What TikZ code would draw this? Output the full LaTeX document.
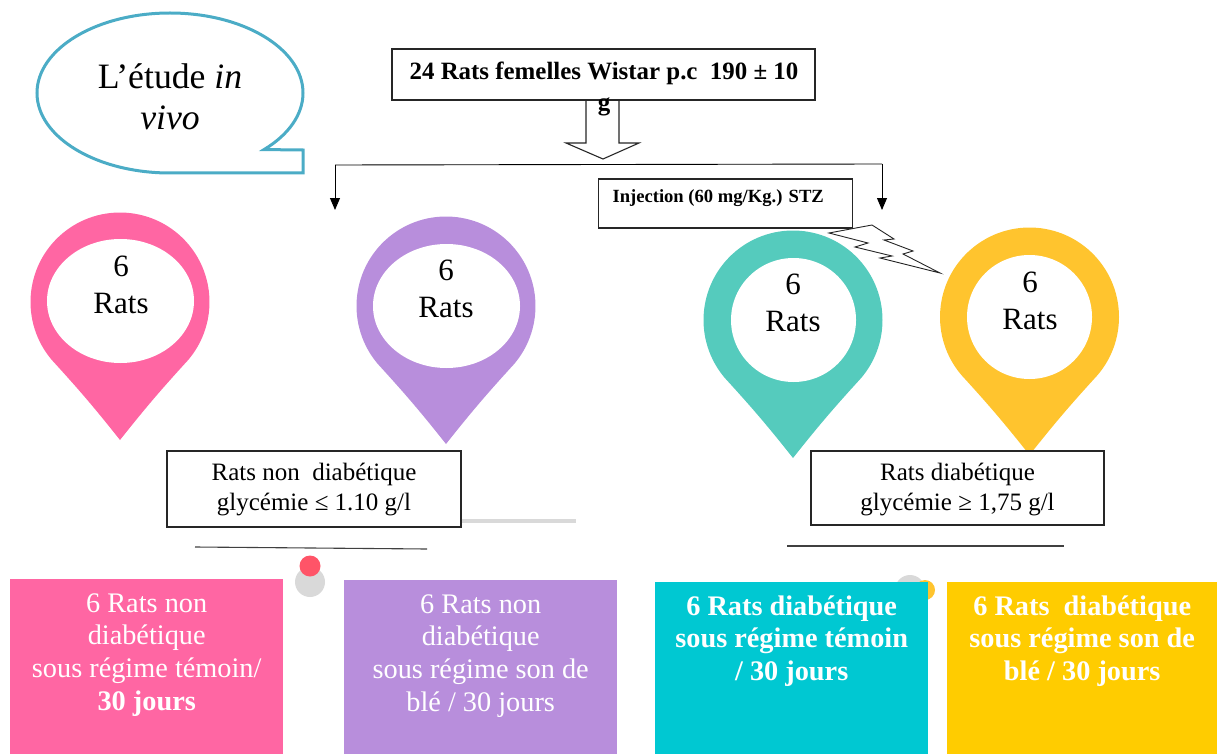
\documentclass[tikz,border=0pt]{standalone}
\usepackage{fontspec}
\setmainfont{Liberation Serif}
\usepackage{tikz}
\usetikzlibrary{positioning,arrows.meta,shapes.geometric}

\definecolor{ratpink}{HTML}{FF66A3}
\definecolor{ratpurple}{HTML}{B88EDC}
\definecolor{pinteal}{HTML}{55CBBD}
\definecolor{pinyellow}{HTML}{FFC42E}
\definecolor{boxteal}{HTML}{00C8D2}
\definecolor{boxyellow}{HTML}{FFCC00}
\definecolor{bubbleblue}{HTML}{4BACC6}
\definecolor{dotred}{HTML}{FF5468}
\definecolor{dotgray}{HTML}{D9D9D9}

\tikzset{
  infobox/.style = {draw=black!85, fill=white, line width=1.2pt, inner sep=0pt},
  hole/.style = {ellipse, fill=white, inner sep=0pt},
  pintext/.style = {align=center, font=\fontsize{31}{37}\selectfont},
  infotext/.style = {align=center, font=\fontsize{25}{29.5}\selectfont},
  groupbox/.style = {anchor=north west, minimum width=273pt, inner sep=0pt},
  grouptext/.style = {align=center, text=white, font=\fontsize{28.3}{32.7}\selectfont},
  groupbold/.style = {grouptext, font=\fontsize{28.3}{32.7}\bfseries\selectfont},
  branch/.style = {line width=0.9pt},
  dot/.style = {circle, inner sep=0pt}
}

% name, x, y of the head, radius, tip, colour
\newcommand{\ratpin}[6]{
  \pgfmathsetmacro{\pinangle}{acos(#4/(#5-#3))}
  \fill[#6] (#2,#5) to[bend right=2] ({#2+#4*cos(90+\pinangle)},{#3+#4*sin(90+\pinangle)})
    arc[start angle={90+\pinangle}, end angle={450-\pinangle}, radius=#4] to[bend right=2] cycle;
  \coordinate (#1) at (#2,#3);
}

\begin{document}
\begin{tikzpicture}[x=1pt,y=-1pt]
  \useasboundingbox (0,0) rectangle (1217,754);

  % speech bubble
  \draw[bubbleblue, line width=3pt, line join=miter] (303,173) -- (170,173)
    arc[start angle=90, end angle=405, x radius=133, y radius=80]
    -- (303,150) -- cycle;
  \node (bubbletext) [align=center, font=\fontsize{35.7}{41}\selectfont] at (170,97) {L’étude \textit{in}\\\textit{vivo}};

  % pins
  \ratpin{pinka}{120}{302}{89.5}{440}{ratpink}
  \ratpin{purplea}{446}{306}{89.5}{444}{ratpurple}
  \ratpin{teala}{793}{320}{89.5}{458}{pinteal}
  \ratpin{yellowa}{1029.5}{317}{89.5}{455}{pinyellow}
  \node (pinkhole) [hole, minimum width=147pt, minimum height=124pt] at (120.5,301) {};
  \node (purplehole) [hole, minimum width=147pt, minimum height=124pt] at (446.5,306) {};
  \node (tealhole) [hole, minimum width=125pt, minimum height=124pt] at (793.5,320) {};
  \node (yellowhole) [hole, minimum width=125pt, minimum height=124pt] at (1029.5,317) {};
  \node (pinktext) [pintext] at (121,285) {6\\Rats};
  \node (purpletext) [pintext] at (446,289) {6\\Rats};
  \node (tealtext) [pintext] at (793,303) {6\\Rats};
  \node (yellowtext) [pintext] at (1030,301) {6\\Rats};

  % top box and block arrow
  \draw[draw=black!85, fill=white, line width=1.1pt, line join=miter] (586,100) -- (586,143) -- (566,143)
    -- (603,159) -- (639,143) -- (619,143) -- (619,100);
  \node (ratsbox) [infobox, minimum width=423pt, minimum height=51pt] at (603.5,74.5) {};
  \node (ratstext) [align=center, font=\fontsize{24.9}{31}\bfseries\selectfont] at (604,89) {24 Rats femelles Wistar p.c\ \ 190 ± 10\\g};

  % branches
  \coordinate (splitleft) at (335,165);
  \coordinate (splitright) at (882,164);
  \coordinate (armleft) at (335,210);
  \coordinate (armright) at (882,210);
  \draw[branch] (splitleft) -- (splitright);
  \draw[branch, -{Triangle[width=10pt,length=12pt]}] (splitleft) -- (armleft);
  \draw[branch, -{Triangle[width=10pt,length=12pt]}] (splitright) -- (armright);

  % injection and bolt
  \node (injectbox) [infobox, minimum width=254pt, minimum height=49pt] at (725.5,203.5) {};
  \node (injecttext) [anchor=west, font=\fontsize{18.6}{20}\bfseries\selectfont] at (609,198.5) {Injection (60 mg/Kg.) STZ};
  \draw[draw=black!85, fill=white, line width=0.9pt, line join=miter] (829,233) -- (872,225) -- (894,239) -- (884,240)
    -- (913,251) -- (903,254) -- (940,273) -- (880,258) -- (892,256) -- (855,247) -- (868,243) -- cycle;

  % info boxes
  \node (nondiabbox) [infobox, minimum width=294pt, minimum height=76pt] at (314,489) {};
  \node (nondiabtext) [infotext] at (314,489.5) {Rats non\ \ diabétique\\glycémie ≤ 1.10 g/l};
  \node (diabbox) [infobox, minimum width=293pt, minimum height=74pt] at (957.5,488) {};
  \node (diabtext) [infotext] at (957.5,489.5) {Rats diabétique\\glycémie ≥ 1,75 g/l};

  % rules under the boxes
  \coordinate (grayend) at (576,521);
  \draw[dotgray, line width=4pt] (nondiabbox.east |- grayend) -- (grayend);
  \coordinate (ruleaw) at (195,547);
  \coordinate (ruleae) at (427,549);
  \coordinate (rulebw) at (787,546);
  \coordinate (rulebe) at (1064,546);
  \draw[line width=1.1pt, black!75] (ruleaw) -- (ruleae);
  \draw[line width=1.1pt, black!75] (rulebw) -- (rulebe);

  % dots
  \node (graydota) [dot, fill=dotgray, minimum size=30pt] at (310,582) {};
  \node (reddot) [dot, fill=dotred, minimum size=21pt] at (310,566) {};
  \node (graydotb) [dot, fill=dotgray, minimum size=30pt] at (910,590) {};
  \node (yellowdot) [dot, fill=pinyellow, minimum size=20pt] at (925,590) {};

  % groups
  \node (pinkbox) [groupbox, fill=ratpink, minimum height=175pt] at (10,579) {};
  \node (purplebox) [groupbox, fill=ratpurple, minimum height=174pt] at (344,580) {};
  \node (tealbox) [groupbox, fill=boxteal, minimum height=172pt] at (655,582) {};
  \node (yellowbox) [groupbox, fill=boxyellow, minimum width=270pt, minimum height=172pt] at (947,582) {};
  \node (pinkgroup) [grouptext, below=11pt of pinkbox.north] {6 Rats non\\diabétique\\sous régime témoin/\\\textbf{30 jours}};
  \node (purplegroup) [grouptext, below=11pt of purplebox.north] {6 Rats non\\diabétique\\sous régime son de\\blé / 30 jours};
  \node (tealgroup) [groupbold, below=10pt of tealbox.north] {6 Rats diabétique\\sous régime témoin\\/ 30 jours};
  \node (yellowgroup) [groupbold, below=10pt of yellowbox.north] {6 Rats\ \ diabétique\\sous régime son de\\blé / 30 jours};
\end{tikzpicture}
\end{document}
